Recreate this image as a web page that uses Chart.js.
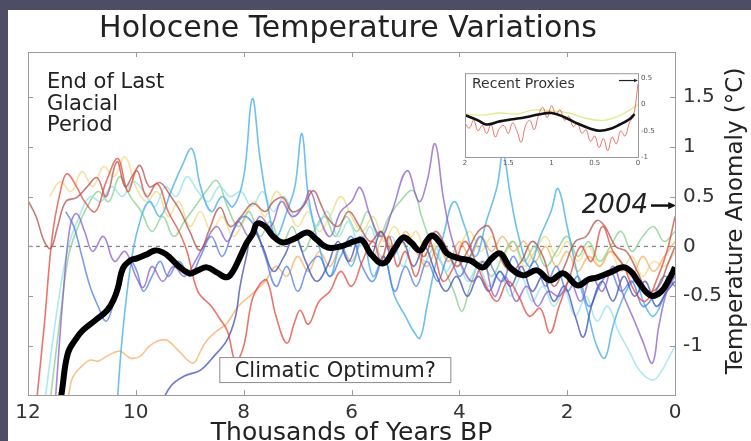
<!DOCTYPE html>
<html>
<head>
<meta charset="utf-8">
<title>Holocene Temperature Variations</title>
<script src="https://cdn.jsdelivr.net/npm/chart.js@4.4.0/dist/chart.umd.min.js"></script>
<style>
  html, body { margin: 0; padding: 0; }
  body { width: 751px; height: 441px; background: #4d4e66; position: relative; overflow: hidden; }
  #panel { position: absolute; left: 8px; top: 10px; width: 743px; height: 431px; background: #fff; }
  #main { position: absolute; left: 0; top: 0; }
  #inset { position: absolute; left: 450px; top: 56px; }
</style>
</head>
<body>
<div id="panel">
  <canvas id="main" width="743" height="431"></canvas>
  <canvas id="inset" width="200" height="110"></canvas>
</div>
<script>
// thousands of years before present, temperature anomaly in °C
const xTicks = [12, 10, 8, 6, 4, 2, 0];
const yTicks = [-1, -0.5, 0, 0.5, 1, 1.5];

const meanCurve = [[11.45,-1.75],[11.37,-1.45],[11.26,-1.07],[11.1,-0.92],[10.98,-0.84],[10.75,-0.74],[10.53,-0.64],[10.4,-0.52],[10.33,-0.41],[10.24,-0.22],[10.1,-0.14],[9.98,-0.12],[9.8,-0.08],[9.64,-0.04],[9.5,-0.06],[9.37,-0.11],[9.2,-0.2],[9.0,-0.27],[8.85,-0.24],[8.68,-0.21],[8.5,-0.26],[8.31,-0.31],[8.2,-0.25],[8.07,-0.11],[7.95,0.03],[7.83,0.13],[7.75,0.23],[7.6,0.2],[7.45,0.1],[7.27,0.04],[7.05,0.08],[6.82,0.14],[6.65,0.07],[6.45,-0.01],[6.2,0.0],[5.95,0.05],[5.8,0.06],[5.65,-0.07],[5.41,-0.17],[5.2,-0.02],[5.04,0.09],[4.9,0.04],[4.73,-0.04],[4.6,0.06],[4.5,0.11],[4.35,0.03],[4.23,-0.07],[4.0,-0.12],[3.8,-0.14],[3.56,-0.21],[3.4,-0.12],[3.24,-0.07],[3.06,-0.21],[2.82,-0.29],[2.56,-0.24],[2.32,-0.34],[2.07,-0.27],[1.81,-0.39],[1.6,-0.33],[1.44,-0.31],[1.2,-0.26],[0.96,-0.21],[0.8,-0.26],[0.7,-0.34],[0.46,-0.49],[0.27,-0.46],[0.1,-0.32],[0.0,-0.21]];

const redProxy = [[11.85,-1.6],[11.7,-0.8],[11.55,0.1],[11.4,0.55],[11.28,0.73],[11.1,0.6],[10.95,0.45],[10.75,0.35],[10.55,0.65],[10.33,0.88],[10.15,0.55],[9.98,0.76],[9.8,0.5],[9.6,0.63],[9.4,0.35],[9.2,0.15],[9.05,-0.05],[8.85,-0.45],[8.6,-0.6],[8.45,-0.72],[8.3,-0.85],[8.15,-1.15],[8.0,-1.0],[7.85,-0.55],[7.7,-0.38],[7.57,-0.34],[7.4,-0.7],[7.2,-0.97],[7.05,-0.75],[6.95,-0.64],[6.8,-0.78],[6.6,-0.55],[6.4,-0.45],[6.2,-0.25],[6.0,-0.4],[5.8,-0.15],[5.6,0.05],[5.45,-0.15],[5.3,0.1],[5.15,-0.2],[5.0,-0.05],[4.8,-0.3],[4.6,0.1],[4.45,-0.1],[4.3,-0.35],[4.1,-0.2],[3.9,0.05],[3.7,-0.15],[3.5,-0.4],[3.3,-0.55],[3.1,-0.35],[2.9,-0.5],[2.7,-0.7],[2.5,-0.62],[2.32,-0.87],[2.15,-0.6],[1.95,-0.3],[1.75,0.0],[1.55,-0.15],[1.35,0.2],[1.15,-0.05],[0.95,-0.2],[0.75,-0.45],[0.55,-0.55],[0.35,-0.35],[0.15,-0.05],[0.0,0.3]];

const darkRedProxy = [[12,0.46],[11.85,0.3],[11.7,0.05],[11.58,-0.02],[11.45,0.2],[11.3,0.45],[11.1,0.49],[10.9,0.6],[10.72,0.69],[10.55,0.5],[10.35,0.85],[10.2,0.6],[10.05,0.72],[9.92,0.81],[9.75,0.6],[9.55,0.64],[9.35,0.5],[9.18,0.36],[9.0,0.15],[8.81,-0.04],[8.65,0.15],[8.44,0.39],[8.25,0.2],[8.05,0.3],[7.83,0.43],[7.6,0.35],[7.45,0.45],[7.27,0.49],[7.1,0.35],[6.9,0.4],[6.71,0.56],[6.55,0.4],[6.45,0.29],[6.25,0.2],[6.05,0.35],[5.85,0.2],[5.65,0.05],[5.45,0.15],[5.25,-0.05],[5.05,0.1],[4.85,0.05],[4.65,-0.1],[4.45,0.15],[4.25,0.0],[4.05,-0.2],[3.85,-0.05],[3.65,0.15],[3.45,0.2],[3.25,-0.1],[3.05,-0.25],[2.85,-0.15],[2.65,0.05],[2.45,-0.1],[2.25,-0.4],[2.05,-0.2],[1.85,0.05],[1.65,0.1],[1.45,0.26],[1.3,0.2],[1.1,0.0],[0.9,-0.05],[0.7,-0.25],[0.5,-0.45],[0.3,-0.4],[0.15,-0.2],[0.0,0.0]];

const purpleProxy = [[11.5,-1.6],[11.35,-0.5],[11.22,0.2],[11.1,0.33],[10.95,0.15],[10.8,-0.05],[10.6,0.1],[10.4,-0.15],[10.2,-0.05],[10.0,-0.3],[9.86,-0.41],[9.7,-0.2],[9.5,-0.35],[9.3,-0.2],[9.1,-0.3],[8.9,-0.15],[8.7,0.05],[8.5,0.2],[8.3,0.05],[8.1,0.25],[7.9,0.1],[7.7,0.3],[7.5,0.2],[7.3,0.45],[7.1,0.3],[6.9,0.4],[6.77,0.56],[6.6,0.3],[6.4,0.1],[6.2,0.35],[6.0,0.45],[5.84,0.59],[5.65,0.3],[5.45,0.1],[5.25,0.35],[4.97,0.76],[4.75,0.45],[4.6,0.65],[4.45,1.03],[4.3,0.5],[4.15,0.1],[3.95,-0.2],[3.75,-0.35],[3.55,-0.15],[3.35,-0.5],[3.15,-0.3],[2.95,-0.55],[2.75,-0.4],[2.55,-0.6],[2.35,-0.45],[2.15,-0.5],[1.95,-0.35],[1.75,-0.55],[1.55,-0.3],[1.35,-0.45],[1.15,-0.2],[0.95,-0.5],[0.75,-0.75],[0.6,-0.95],[0.42,-1.17],[0.3,-0.8],[0.15,-0.45],[0.0,-0.3]];

const navyProxy = [[9.55,-1.6],[9.35,-1.4],[9.1,-1.3],[8.8,-1.24],[8.55,-1.1],[8.31,-0.94],[8.15,-0.7],[8.07,-0.41],[7.95,-0.1],[7.83,0.16],[7.65,0.0],[7.45,-0.25],[7.25,-0.1],[7.05,0.1],[6.85,-0.15],[6.65,-0.35],[6.45,-0.2],[6.25,0.05],[6.05,-0.15],[5.85,0.1],[5.65,-0.1],[5.45,0.15],[5.25,-0.1],[5.05,0.05],[4.85,-0.2],[4.65,0.0],[4.45,-0.25],[4.25,-0.45],[4.05,-0.3],[3.85,-0.5],[3.65,-0.3],[3.45,-0.45],[3.25,-0.25],[3.05,-0.4],[2.85,-0.2],[2.65,-0.45],[2.45,-0.3],[2.25,-0.55],[2.05,-0.4],[1.85,-0.7],[1.7,-0.91],[1.55,-0.6],[1.35,-0.35],[1.15,-0.55],[0.95,-0.3],[0.75,-0.5],[0.55,-0.35],[0.35,-0.6],[0.15,-0.45],[0.0,-0.35]];

const blueProxy = [[11.3,0.35],[11.15,0.2],[11.0,-0.1],[10.85,-0.4],[10.7,-0.6],[10.55,-0.75],[10.4,-0.55],[10.25,-0.3],[10.1,-0.15],[9.98,-0.25],[9.86,-0.45],[9.7,-0.3],[9.55,-0.15],[9.4,-0.3],[9.2,-0.15],[9.0,-0.3],[8.8,-0.1],[8.6,0.1],[8.4,-0.1],[8.2,0.15],[8.0,0.3],[7.8,0.2],[7.6,-0.1],[7.4,-0.4],[7.2,-0.2],[7.0,-0.45],[6.8,-0.2],[6.6,-0.1],[6.4,-0.3],[6.2,-0.1],[6.0,0.1],[5.8,-0.2],[5.6,-0.35],[5.4,-0.1],[5.2,-0.45],[5.0,-0.2],[4.8,-0.4],[4.6,-0.15],[4.4,-0.35],[4.2,-0.1],[4.0,-0.3],[3.8,-0.1],[3.6,0.1],[3.4,-0.2],[3.2,-0.35],[3.0,-0.1],[2.8,-0.3],[2.6,-0.15],[2.4,-0.4],[2.2,-0.2],[2.0,-0.45],[1.8,-0.3],[1.6,-0.6],[1.4,-0.4],[1.2,-0.25],[1.0,-0.45],[0.8,-0.35],[0.6,-0.6],[0.4,-0.5],[0.2,-0.3],[0.0,-0.4]];

const skyProxy = [[10.35,-1.6],[10.25,-0.9],[10.1,-0.2],[9.95,0.2],[9.75,0.45],[9.55,0.3],[9.35,0.55],[9.15,0.8],[8.96,0.98],[8.8,0.6],[8.6,0.35],[8.4,0.5],[8.2,0.4],[8.0,0.7],[7.84,1.48],[7.7,0.9],[7.55,0.4],[7.4,0.1],[7.2,0.35],[7.05,0.6],[6.92,1.13],[6.8,0.5],[6.6,0.0],[6.4,-0.3],[6.2,0.0],[6.0,-0.2],[5.8,0.1],[5.6,-0.3],[5.4,-0.1],[5.2,-0.5],[5.0,-0.7],[4.85,-0.85],[4.73,-0.92],[4.6,-0.6],[4.45,-0.2],[4.3,0.1],[4.1,0.45],[3.9,0.2],[3.7,-0.1],[3.5,0.25],[3.3,0.6],[3.19,0.93],[3.05,0.5],[2.9,0.1],[2.7,-0.2],[2.5,0.1],[2.3,0.35],[2.17,0.58],[2.0,0.2],[1.8,-0.3],[1.6,-0.7],[1.45,-1.0],[1.3,-1.12],[1.15,-0.8],[0.95,-0.5],[0.75,-0.35],[0.55,-0.6],[0.4,-0.7],[0.2,-0.5],[0.0,-0.25]];

const cyanProxy = [[11.7,-1.6],[11.45,-0.6],[11.25,0.0],[11.05,0.3],[10.85,0.5],[10.65,0.45],[10.45,0.6],[10.25,0.5],[10.05,0.65],[9.85,0.55],[9.65,0.4],[9.45,0.6],[9.25,0.5],[9.05,0.7],[8.85,0.55],[8.65,0.45],[8.45,0.6],[8.25,0.5],[8.05,0.55],[7.85,0.4],[7.65,0.55],[7.45,0.35],[7.25,0.5],[7.05,0.3],[6.85,0.45],[6.65,0.2],[6.45,0.35],[6.25,0.1],[6.05,0.25],[5.85,0.0],[5.65,0.2],[5.45,-0.1],[5.25,0.1],[5.05,-0.2],[4.85,0.05],[4.65,-0.15],[4.45,0.0],[4.25,-0.25],[4.05,-0.1],[3.85,-0.35],[3.65,-0.2],[3.45,-0.4],[3.25,-0.25],[3.05,-0.5],[2.85,-0.3],[2.65,-0.55],[2.45,-0.4],[2.25,-0.6],[2.05,-0.45],[1.85,-0.7],[1.65,-0.5],[1.45,-0.75],[1.25,-0.6],[1.05,-0.85],[0.85,-1.05],[0.65,-1.25],[0.41,-1.34],[0.25,-1.25],[0.1,-1.1],[0.0,-1.0]];

const greenProxy = [[11.6,-1.6],[11.4,-0.7],[11.25,-0.1],[11.1,0.16],[10.9,0.4],[10.7,0.55],[10.5,0.45],[10.3,0.7],[10.1,0.5],[9.9,0.35],[9.7,0.15],[9.5,0.3],[9.3,0.1],[9.1,0.25],[8.9,0.4],[8.7,0.55],[8.5,0.66],[8.3,0.4],[8.1,0.2],[7.9,0.35],[7.7,0.1],[7.5,0.25],[7.3,0.0],[7.1,0.2],[6.9,-0.05],[6.7,0.15],[6.5,0.3],[6.3,0.1],[6.1,0.3],[5.9,0.15],[5.7,0.35],[5.5,0.1],[5.3,0.3],[5.1,0.45],[4.86,0.56],[4.7,0.3],[4.5,0.0],[4.3,-0.2],[4.1,-0.45],[3.95,-0.65],[3.8,-0.4],[3.6,-0.15],[3.4,-0.3],[3.2,-0.1],[3.0,0.05],[2.8,-0.15],[2.6,0.0],[2.4,-0.2],[2.2,-0.05],[2.0,0.1],[1.8,-0.1],[1.6,0.05],[1.4,-0.15],[1.2,0.0],[1.0,0.15],[0.8,-0.05],[0.6,0.1],[0.4,0.2],[0.2,0.05],[0.0,0.15]];

const orangeProxy = [[11.25,-1.5],[11.17,-1.31],[11.0,-1.2],[10.85,-1.14],[10.7,-1.15],[10.53,-1.1],[10.3,-1.05],[10.1,-1.12],[9.92,-1.1],[9.75,-1.0],[9.6,-0.95],[9.42,-0.94],[9.2,-1.05],[8.94,-1.17],[8.8,-1.05],[8.68,-0.94],[8.5,-0.85],[8.31,-0.77],[8.1,-0.6],[7.83,-0.47],[7.6,-0.35],[7.4,-0.2],[7.2,-0.3],[7.0,-0.1],[6.8,-0.25],[6.6,-0.05],[6.4,-0.2],[6.2,0.0],[6.0,-0.15],[5.8,0.05],[5.6,-0.1],[5.4,0.1],[5.2,-0.05],[5.0,0.15],[4.8,-0.05],[4.6,-0.2],[4.4,0.0],[4.2,-0.15],[4.0,0.05],[3.8,-0.1],[3.6,0.1],[3.4,-0.05],[3.2,0.1],[3.0,-0.05],[2.8,0.05],[2.6,-0.15],[2.4,0.0],[2.2,-0.2],[2.0,-0.05],[1.8,-0.25],[1.6,-0.1],[1.4,-0.2],[1.2,-0.05],[1.0,-0.15],[0.8,-0.3],[0.6,-0.1],[0.4,-0.25],[0.2,-0.1],[0.0,0.05]];

const yellowProxy = [[11.6,0.5],[11.4,0.65],[11.2,0.55],[11.0,0.75],[10.8,0.6],[10.6,0.8],[10.4,0.7],[10.2,0.9],[10.0,0.6],[9.8,0.45],[9.6,0.55],[9.4,0.3],[9.2,0.45],[9.0,0.2],[8.8,0.35],[8.6,0.15],[8.4,0.3],[8.2,0.1],[8.0,0.25],[7.8,0.45],[7.6,0.3],[7.4,0.55],[7.2,0.4],[7.0,0.2],[6.8,0.35],[6.6,0.15],[6.4,0.3],[6.2,0.5],[6.0,0.3],[5.8,0.15],[5.6,0.3],[5.4,0.05],[5.2,0.2],[5.0,0.0],[4.8,0.15],[4.6,-0.1],[4.4,0.05],[4.2,-0.15],[4.0,0.0],[3.8,0.15],[3.6,-0.05],[3.4,0.1],[3.2,-0.1],[3.0,0.05],[2.8,-0.2],[2.6,-0.05],[2.4,0.1],[2.2,-0.1],[2.0,0.05],[1.8,-0.15],[1.6,0.0],[1.4,-0.2],[1.2,-0.05],[1.0,-0.25],[0.8,-0.1],[0.6,-0.3],[0.4,-0.15],[0.2,-0.2],[0.0,-0.05]];

// last two millennia, for the small panel
const insetXTicks = [2, 1.5, 1, 0.5, 0];
const insetYTicks = [0.5, 0, -0.5, -1];
const recentMean = [[2.0,-0.2],[1.85,-0.3],[1.75,-0.38],[1.6,-0.32],[1.45,-0.28],[1.3,-0.24],[1.15,-0.19],[1.0,-0.16],[0.85,-0.24],[0.7,-0.36],[0.55,-0.46],[0.44,-0.5],[0.3,-0.45],[0.21,-0.38],[0.1,-0.28],[0.04,-0.18]];
const recentRed = [[2.0,-0.35],[1.95,-0.45],[1.9,-0.3],[1.85,-0.5],[1.8,-0.4],[1.75,-0.55],[1.7,-0.38],[1.65,-0.62],[1.6,-0.45],[1.55,-0.4],[1.5,-0.55],[1.45,-0.35],[1.4,-0.5],[1.35,-0.72],[1.3,-0.4],[1.25,-0.3],[1.2,-0.48],[1.15,-0.2],[1.1,-0.05],[1.05,-0.25],[1.0,-0.02],[0.95,-0.18],[0.9,-0.1],[0.85,-0.3],[0.8,-0.22],[0.75,-0.42],[0.7,-0.35],[0.65,-0.55],[0.6,-0.48],[0.55,-0.7],[0.5,-0.6],[0.45,-0.82],[0.4,-0.65],[0.35,-0.88],[0.3,-0.62],[0.25,-0.75],[0.2,-0.5],[0.15,-0.6],[0.1,-0.35],[0.05,-0.2],[0.0,0.4]];
const recentYellow = [[2.0,-0.18],[1.8,-0.2],[1.6,-0.16],[1.4,-0.18],[1.2,-0.1],[1.0,-0.12],[0.8,-0.16],[0.6,-0.26],[0.4,-0.3],[0.2,-0.2],[0.0,0.0]];

const FONT = '"DejaVu Sans", "Liberation Sans", sans-serif';

function series(points, color, width) {
  return {
    data: points.map(([x, y]) => ({ x, y })),
    borderColor: color,
    borderWidth: width,
    pointRadius: 0,
    tension: 0.4,
    fill: false
  };
}

function arrow(ctx, x0, y0, x1, y1, width, head) {
  ctx.lineWidth = width;
  ctx.beginPath();
  ctx.moveTo(x0, y0);
  ctx.lineTo(x1 - head, y1);
  ctx.stroke();
  ctx.beginPath();
  ctx.moveTo(x1, y1);
  ctx.lineTo(x1 - head * 1.3, y1 - head * 0.6);
  ctx.lineTo(x1 - head * 1.3, y1 + head * 0.6);
  ctx.closePath();
  ctx.fill();
}

const zeroLine = series([[12, 0], [0, 0]], '#8a8a8a', 1.3);
zeroLine.borderDash = [4, 4];
zeroLine.tension = 0;

// text, frame and callouts around the main plot
const decorations = {
  id: 'decorations',
  afterDatasetsDraw(chart) {
    const { ctx, chartArea: a, scales: { x, y } } = chart;
    ctx.save();

    // "Climatic Optimum?" callout
    const cx = x.getPixelForValue(6.3), cy = y.getPixelForValue(-1.24);
    ctx.fillStyle = '#fff';
    ctx.strokeStyle = '#8c8c8c';
    ctx.lineWidth = 1;
    ctx.fillRect(cx - 116, cy - 13, 232, 26);
    ctx.strokeRect(cx - 115.5, cy - 12.5, 231, 25);
    ctx.fillStyle = '#222';
    ctx.font = '21px ' + FONT;
    ctx.textAlign = 'center';
    ctx.textBaseline = 'middle';
    ctx.fillText('Climatic Optimum?', cx, cy + 1);

    // end of last glacial period note
    ctx.textAlign = 'left';
    ['End of Last', 'Glacial', 'Period'].forEach((s, i) => {
      ctx.fillText(s, a.left + 19, a.top + 31 + i * 21.5);
    });

    // 2004 marker
    const ay = y.getPixelForValue(0.41);
    const ax = x.getPixelForValue(0);
    ctx.font = 'italic 26px ' + FONT;
    ctx.textAlign = 'right';
    ctx.fillText('2004', ax - 27, ay + 1);
    ctx.fillStyle = '#111';
    ctx.strokeStyle = '#111';
    arrow(ctx, ax - 24, ay, ax + 1, ay, 2.5, 6);

    // plot frame with inward ticks
    ctx.strokeStyle = '#9b9b9b';
    ctx.lineWidth = 1;
    ctx.strokeRect(a.left + 0.5, a.top + 0.5, a.right - a.left, a.bottom - a.top);
    ctx.beginPath();
    xTicks.forEach(v => {
      const px = Math.round(x.getPixelForValue(v)) + 0.5;
      ctx.moveTo(px, a.top); ctx.lineTo(px, a.top + 5);
      ctx.moveTo(px, a.bottom); ctx.lineTo(px, a.bottom - 5);
    });
    yTicks.forEach(v => {
      const py = Math.round(y.getPixelForValue(v)) + 0.5;
      ctx.moveTo(a.left, py); ctx.lineTo(a.left + 5, py);
      ctx.moveTo(a.right, py); ctx.lineTo(a.right - 5, py);
    });
    ctx.stroke();
    ctx.restore();
  },
  afterDraw(chart) {
    const { ctx, chartArea: a } = chart;
    ctx.save();
    ctx.fillStyle = '#222';
    ctx.textAlign = 'center';
    ctx.textBaseline = 'middle';
    ctx.font = '30px ' + FONT;
    ctx.fillText('Holocene Temperature Variations', 340, 19);

    // right-hand axis title, reading upwards
    ctx.translate(a.right + 61, 211);
    ctx.rotate(-Math.PI / 2);
    ctx.font = '23px ' + FONT;
    ctx.fillText('Temperature Anomaly (°C)', 0, 0);
    ctx.restore();
  }
};

new Chart(document.getElementById('main'), {
  type: 'line',
  data: {
    datasets: [
      series(meanCurve, '#000', 6),
      series(redProxy, 'rgba(226,72,60,0.75)', 1.6),
      series(darkRedProxy, 'rgba(176,82,76,0.75)', 1.6),
      series(purpleProxy, 'rgba(138,94,200,0.75)', 1.6),
      series(navyProxy, 'rgba(60,78,180,0.75)', 1.6),
      series(blueProxy, 'rgba(78,126,228,0.75)', 1.6),
      series(skyProxy, 'rgba(86,180,236,0.85)', 1.6),
      series(cyanProxy, 'rgba(160,228,236,0.85)', 1.6),
      series(greenProxy, 'rgba(140,210,146,0.8)', 1.6),
      series(orangeProxy, 'rgba(245,180,110,0.8)', 1.6),
      series(yellowProxy, 'rgba(240,218,130,0.75)', 1.6),
      zeroLine
    ]
  },
  options: {
    responsive: false,
    animation: false,
    layout: { padding: { left: 20, top: 42, right: 0, bottom: 0 } },
    plugins: { legend: { display: false }, tooltip: { enabled: false } },
    scales: {
      x: {
        type: 'linear',
        reverse: true,
        min: 0,
        max: 12,
        afterBuildTicks: axis => { axis.ticks = xTicks.map(v => ({ value: v })); },
        afterFit: axis => { axis.height = 46; },
        grid: { display: false, drawTicks: false },
        border: { display: false },
        ticks: { font: { family: FONT, size: 20 }, color: '#333', padding: 6, maxRotation: 0 },
        title: {
          display: true,
          text: 'Thousands of Years BP',
          font: { family: FONT, size: 25, lineHeight: 0.6 },
          color: '#222',
          padding: 0
        }
      },
      y: {
        position: 'right',
        min: -1.49,
        max: 1.95,
        afterBuildTicks: axis => { axis.ticks = yTicks.map(v => ({ value: v })); },
        afterFit: axis => { axis.width = 76; },
        grid: { display: false, drawTicks: false },
        border: { display: false },
        ticks: { font: { family: FONT, size: 20 }, color: '#333', padding: 8, callback: v => String(v) }
      }
    }
  },
  plugins: [decorations]
});

// small panel with the last two thousand years
const insetFrame = {
  id: 'insetFrame',
  beforeDatasetsDraw(chart) {
    const { ctx, chartArea: a } = chart;
    ctx.save();
    ctx.fillStyle = '#fff';
    ctx.fillRect(a.left, a.top, a.right - a.left, a.bottom - a.top);
    ctx.restore();
  },
  afterDraw(chart) {
    const { ctx, chartArea: a, scales: { x, y } } = chart;
    ctx.save();
    ctx.strokeStyle = '#9b9b9b';
    ctx.lineWidth = 1;
    ctx.strokeRect(a.left + 0.5, a.top + 0.5, a.right - a.left, a.bottom - a.top);
    ctx.fillStyle = '#333';
    ctx.font = '14px ' + FONT;
    ctx.textBaseline = 'middle';
    ctx.fillText('Recent Proxies', a.left + 7, a.top + 11);
    ctx.fillStyle = '#222';
    ctx.strokeStyle = '#222';
    const ay = y.getPixelForValue(0.46);
    arrow(ctx, x.getPixelForValue(0.22), ay, x.getPixelForValue(0.0), ay, 1.2, 3);
    ctx.restore();
  }
};

new Chart(document.getElementById('inset'), {
  type: 'line',
  data: {
    datasets: [
      series(recentMean, '#111', 2.6),
      series(recentRed, 'rgba(226,72,60,0.75)', 1),
      series(recentYellow, 'rgba(214,232,120,0.8)', 1.4)
    ]
  },
  options: {
    responsive: false,
    animation: false,
    layout: { padding: { left: 7, top: 4, right: 0, bottom: 0 } },
    plugins: { legend: { display: false }, tooltip: { enabled: false } },
    scales: {
      x: {
        type: 'linear',
        reverse: true,
        min: 0,
        max: 2,
        afterBuildTicks: axis => { axis.ticks = insetXTicks.map(v => ({ value: v })); },
        afterFit: axis => { axis.height = 19; },
        grid: { display: false, drawTicks: false },
        border: { display: false },
        ticks: { font: { family: FONT, size: 7 }, color: '#555', padding: 2, maxRotation: 0, callback: v => String(v) }
      },
      y: {
        position: 'right',
        min: -1,
        max: 0.6,
        afterBuildTicks: axis => { axis.ticks = insetYTicks.map(v => ({ value: v })); },
        afterFit: axis => { axis.width = 20; },
        grid: { display: false, drawTicks: false },
        border: { display: false },
        ticks: { font: { family: FONT, size: 7 }, color: '#555', padding: 3, callback: v => String(v) }
      }
    }
  },
  plugins: [insetFrame]
});
</script>
</body>
</html>
